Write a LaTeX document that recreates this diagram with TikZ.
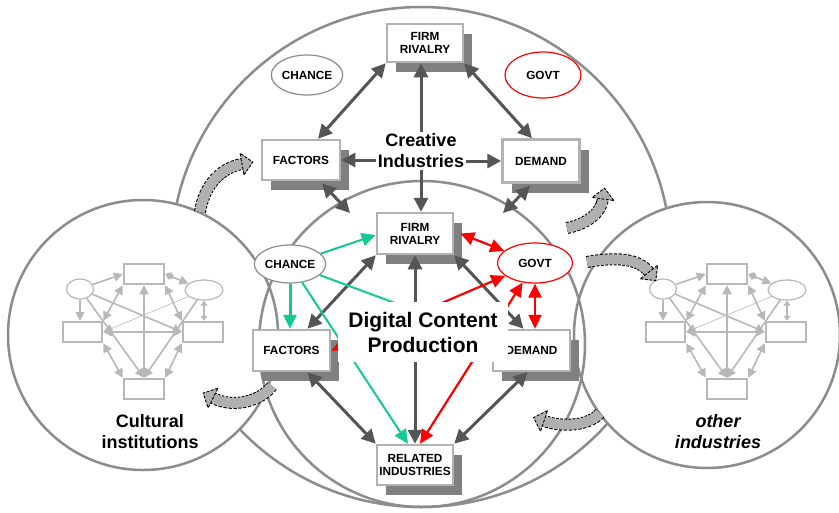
\documentclass[tikz,border=0pt]{standalone}
\usepackage{fontspec}
\setmainfont{Liberation Sans}
\usetikzlibrary{arrows.meta,calc,shapes.geometric,shadows}
\definecolor{circgray}{HTML}{8C8C8C}
\definecolor{boxgray}{HTML}{B2B2B2}
\definecolor{shadgray}{HTML}{808080}
\definecolor{arrgray}{HTML}{555555}
\definecolor{greenc}{HTML}{14C896}
\definecolor{minigray}{HTML}{B8B8B8}
\definecolor{blkfill}{HTML}{B0B0B0}
\newcommand\lbl{\fontsize{11.8}{13}\selectfont\bfseries}
\newcommand\blockarr[4]{%
  \coordinate (ba0) at #1; \coordinate (ba1) at #2; \coordinate (ba2) at #3; \coordinate (ba3) at #4;
  \draw[black, dash pattern=on 3pt off 1.5pt, line width=12] (ba0) .. controls (ba1) and (ba2) .. (ba3);
  \draw[blkfill, line width=10] (ba0) .. controls (ba1) and (ba2) .. (ba3);
  \filldraw[fill=blkfill, draw=black, dash pattern=on 3pt off 1.5pt, line width=0.9]
    ($(ba3)!11pt!90:(ba2)$) -- ($(ba3)!-11pt!(ba2)$) -- ($(ba3)!11pt!-90:(ba2)$) -- cycle;
}
\tikzset{
  circ/.style={draw=circgray, line width=2.5},
  pbox/.style={draw=boxgray, line width=2.5, fill=white, minimum width=77, minimum height=41,
    inner sep=1, align=center, font=\lbl,
    drop shadow={shadow xshift=9pt, shadow yshift=-10pt, fill=shadgray, opacity=1, shadow scale=1}},
  pell/.style={ellipse, draw=circgray, line width=1.2, fill=white, inner sep=0, font=\lbl},
  gell/.style={ellipse, draw=red, line width=1.2, fill=white, inner sep=0, font=\lbl},
  darr/.style={draw=arrgray, line width=3, {Triangle[length=14pt,width=14pt]}-{Triangle[length=14pt,width=14pt]}},
  darr1/.style={draw=arrgray, line width=3, -{Triangle[length=14pt,width=14pt]}},
  garr/.style={draw=greenc, line width=2, -{Triangle[length=14pt,width=13pt]}},
  rarr/.style={draw=red, line width=2.2, {Triangle[length=14pt,width=13pt]}-{Triangle[length=14pt,width=13pt]}},
  mbox/.style={draw=minigray, line width=2.5, fill=white, minimum width=40, minimum height=20, inner sep=0},
  mell/.style={ellipse, draw=minigray, line width=1.2, fill=white, inner sep=0},
  marr/.style={draw=minigray, line width=1.6, -{Triangle[length=9pt,width=9pt]}},
  mdarr/.style={draw=minigray, line width=1.6, {Triangle[length=9pt,width=9pt]}-{Triangle[length=9pt,width=9pt]}},
  porter/.pic={
    \node[mbox] (-T) at (0,0) {};
    \node[mell, minimum width=27, minimum height=20] (-E1) at (-64,15) {};
    \node[mell, minimum width=38, minimum height=20] (-E2) at (60,16) {};
    \node[mbox, minimum width=39] (-L) at (-61.5,58) {};
    \node[mbox] (-R) at (59,58) {};
    \node[mbox] (-B) at (0,115) {};
    \draw[marr] (-E1) -- (-T.west);
    \draw[marr] (-E1.south) -- (-E1.south |- -L.north);
    \draw[marr] (-E1) -- (-R.west);
    \draw[marr] (-E1) -- (-B.north);
    \draw[mdarr] (-T.south west) -- (-L.north east);
    \draw[mdarr] (-T.south) -- (-B.north);
    \draw[mdarr] (-T.south east) -- (-R.north west);
    \draw[mdarr] (-L.east) -- (-R.west);
    \draw[mdarr] (-L.south east) -- (-B.north west);
    \draw[mdarr] (-R.south west) -- (-B.north east);
    \draw[draw=minigray, line width=1.6, {Diamond[length=10pt,width=8pt]}-{Triangle[length=9pt,width=9pt]}] (-T.east) -- (-E2);
    \draw[draw=minigray, line width=1.6, {Triangle[length=5pt,width=7pt]}-{Triangle[length=5pt,width=7pt]}] (-E2.south) -- (-E2.south |- -R.north);
    \draw[draw=minigray, line width=0.6, -{Triangle[length=9pt,width=9pt]}] (-E2) -- (-L.east);
    \draw[marr] (-E2) -- (-B.north);
  }
}
\begin{document}
\begin{tikzpicture}[x=1pt,y=-1pt]
\useasboundingbox (0,0) rectangle (839,512);
\fill[white] (0,0) rectangle (839,512);
% circles
\draw[circ] (421,257) circle[radius=250];
\draw[circ, fill=white] (143,335) circle[radius=135];
\draw[circ, fill=white] (707,335) circle[radius=133];
\draw[circ] (422,344) circle[radius=163];
% mini diagrams
\pic (ml) at (144,274) {porter};
\pic (mr) at (727,274) {porter};
% top (creative industries) diamond
\node[pbox, minimum width=76, minimum height=38] (fr1) at (425,43) {FIRM\\RIVALRY};
\node[pell, minimum width=70, minimum height=40] (ch1) at (307,75) {CHANCE};
\node[gell, minimum width=76, minimum height=46] (gv1) at (543,75) {GOVT};
\node[pbox, minimum width=78, minimum height=40] (fa1) at (301,160) {FACTORS};
\node[pbox, minimum width=77, minimum height=43] (de1) at (541,161) {\raisebox{-3pt}{DEMAND}};
\node[align=center, inner sep=2, font=\fontsize{18}{21}\selectfont\bfseries] (ci) at (421,151) {Creative\\Industries};
% inner (digital content) diamond
\node[pbox, minimum width=76] (fr2) at (415,233.5) {FIRM\\RIVALRY};
\node[pell, minimum width=53, minimum height=38] (ch2) at (290,264) {CHANCE};
\node[gell, minimum width=75, minimum height=40] (gv2) at (535,263) {GOVT};
\node[pbox] (fa2) at (291.5,350.5) {FACTORS};
\node[pbox] (de2) at (531.5,350.5) {DEMAND};
\node[pbox, minimum width=76, minimum height=40] (ri) at (415,465) {RELATED\\INDUSTRIES};
\coordinate (p1) at (350,213);
\coordinate (p2) at (503,213);
% top arrows
\draw[darr] (fr1.south west) -- ($(fa1.north)+(17,0)$);
\draw[darr1] (ci.north) -- (ci.north |- fr1.south);
\draw[darr] (fr1.south east) -- ($(de1.north)+(-9,0)$);
\draw[darr1] (ci.west |- fa1.east) -- (fa1.east);
\draw[darr1] (ci.east |- de1.west) -- (de1.west);
\draw[darr1] (ci.south) -- (ci.south |- fr2.north);
\draw[darr] ($(fa1.south)+(21,2)$) -- (p1);
\draw[darr] ($(de1.south)+(-11,2)$) -- (p2);
% inner arrows
\draw[darr] (fr2.south west) -- ($(fa2.north)+(16,0)$);
\draw[darr] (fr2.south) -- (ri.north);
\draw[darr] (fr2.south east) -- ($(de2.north)+(-8,0)$);
\draw[darr] ($(fa2.south)+(16,0)$) -- (ri.north west);
\draw[darr] ($(de2.south)+(-4,0)$) -- (ri.north east);
\draw[garr] (ch2) -- ($(fr2.west)+(0,1.5)$);
\draw[garr, line width=3] (ch2.south) -- (ch2.south |- fa2.north);
\draw[garr] (ch2) -- ($(de2.west)+(0,-11.5)$);
\draw[garr] (ch2) -- ($(ri.north)+(-7,0)$);
\draw[rarr] ($(fr2.east)+(6,0)$) -- (gv2);
\draw[rarr] (gv2.south) -- (gv2.south |- de2.north);
\draw[rarr] (fa2.east) -- (gv2);
\draw[rarr] ($(ri.north)+(5,0)$) -- (gv2);
% central label
\node[fill=white, minimum width=170, minimum height=60, inner sep=0, align=center,
  font=\fontsize{21}{25}\selectfont\bfseries] (dc) at (423,332) {Digital Content\\Production};
% side labels
\node[align=center, font=\fontsize{18}{21}\selectfont\bfseries] (cul) at (150,432) {Cultural\\institutions};
\node[align=center, font=\fontsize{18}{21}\selectfont\bfseries\itshape] (oth) at (718,432) {other\\industries};
% curved block arrows
\blockarr{(200,212)}{(204,186)}{(220,168)}{(242,164)}
\blockarr{(567,228)}{(587,224)}{(601,213)}{(603,199)}
\blockarr{(587,262)}{(615,257)}{(638,258)}{(649,272)}
\blockarr{(272,386)}{(262,400)}{(235,409)}{(213,398)}
\blockarr{(600,413)}{(590,425)}{(565,428)}{(544,421)}
\end{tikzpicture}
\end{document}
